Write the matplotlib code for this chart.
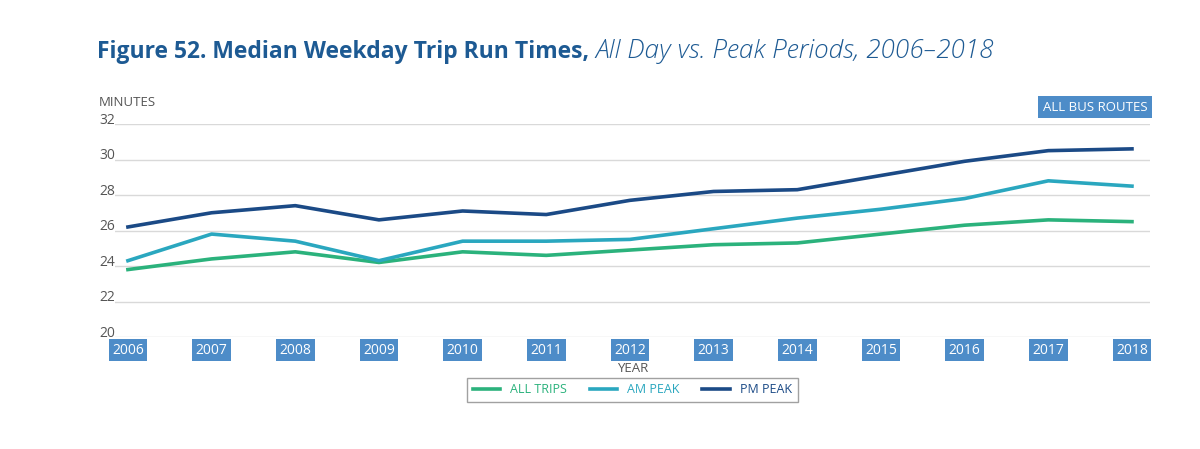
import matplotlib.pyplot as plt
from matplotlib.transforms import blended_transform_factory

years = [2006, 2007, 2008, 2009, 2010, 2011, 2012, 2013, 2014, 2015, 2016, 2017, 2018]
all_trips = [23.8, 24.4, 24.8, 24.2, 24.8, 24.6, 24.9, 25.2, 25.3, 25.8, 26.3, 26.6, 26.5]
am_peak = [24.3, 25.8, 25.4, 24.3, 25.4, 25.4, 25.5, 26.1, 26.7, 27.2, 27.8, 28.8, 28.5]
pm_peak = [26.2, 27.0, 27.4, 26.6, 27.1, 26.9, 27.7, 28.2, 28.3, 29.1, 29.9, 30.5, 30.6]
y_ticks = [20, 22, 24, 26, 28, 30, 32]

plt.rcParams['font.family'] = ['Open Sans', 'DejaVu Sans']

fig = plt.figure(figsize=(12, 4.49), dpi=100)
ax = fig.add_axes([0.0958, 0.2494, 0.8625, 0.4744])

green = '#2bb27c'
teal = '#2aa7bf'
navy = '#1b4a86'
box_blue = '#4d8cc8'
grey_text = '#555555'

ax.plot(years, all_trips, color=green, lw=2.6, label='ALL TRIPS')
ax.plot(years, am_peak, color=teal, lw=2.6, label='AM PEAK')
ax.plot(years, pm_peak, color=navy, lw=2.6, label='PM PEAK')

ax.set_xlim(2005.845, 2018.215)
ax.set_ylim(20, 32)
for y in y_ticks:
    ax.axhline(y, color='#d9d9d9', lw=1.0, zorder=0)
for s in ax.spines.values():
    s.set_visible(False)
ax.set_yticks([])
ax.set_xticks(years)
ax.set_xticklabels([str(y) for y in years])
ax.tick_params(axis='x', length=0, pad=4, labelsize=10, labelcolor='white')
for lbl in ax.get_xticklabels():
    lbl.set_bbox(dict(boxstyle='square,pad=0.25', fc=box_blue, ec='none'))

tr = blended_transform_factory(fig.transFigure, ax.transData)
for y in y_ticks:
    fig.text(0.0825, y + 0.2, str(y), transform=tr, ha='left', va='center',
             fontsize=10, color=grey_text)

fig.text(0.0825, 0.772, 'MINUTES', ha='left', va='center', fontsize=9.5, color=grey_text)
fig.text(0.956, 0.761, 'ALL BUS ROUTES', ha='right', va='center', fontsize=9.5,
         color='white', bbox=dict(boxstyle='square,pad=0.35', fc=box_blue, ec='none'))

ax.set_xlabel('YEAR', fontsize=9.5, color=grey_text, labelpad=3)

leg = ax.legend(loc='upper center', bbox_to_anchor=(0.5, -0.162), ncol=3,
                frameon=True, fancybox=False, fontsize=9, handlelength=2.2,
                handletextpad=0.8, columnspacing=1.8, borderpad=0.45)
leg.get_frame().set_edgecolor('#8a8a8a')
leg.get_frame().set_linewidth(1.0)
for txt, c in zip(leg.get_texts(), [green, teal, navy]):
    txt.set_color(c)

title_color = '#1d5a93'
t1 = fig.text(0.081, 0.885, 'Figure 52. Median Weekday Trip Run Times,', ha='left',
              va='center', fontsize=16.5, fontweight='bold', color=title_color)
fig.canvas.draw()
bb = t1.get_window_extent().transformed(fig.transFigure.inverted())
fig.text(bb.x1 + 0.005, 0.885, 'All Day vs. Peak Periods, 2006\u20132018', ha='left',
         va='center', fontsize=18.8, style='italic', fontweight='light', color=title_color)

fig.savefig('out.png', dpi=100)
